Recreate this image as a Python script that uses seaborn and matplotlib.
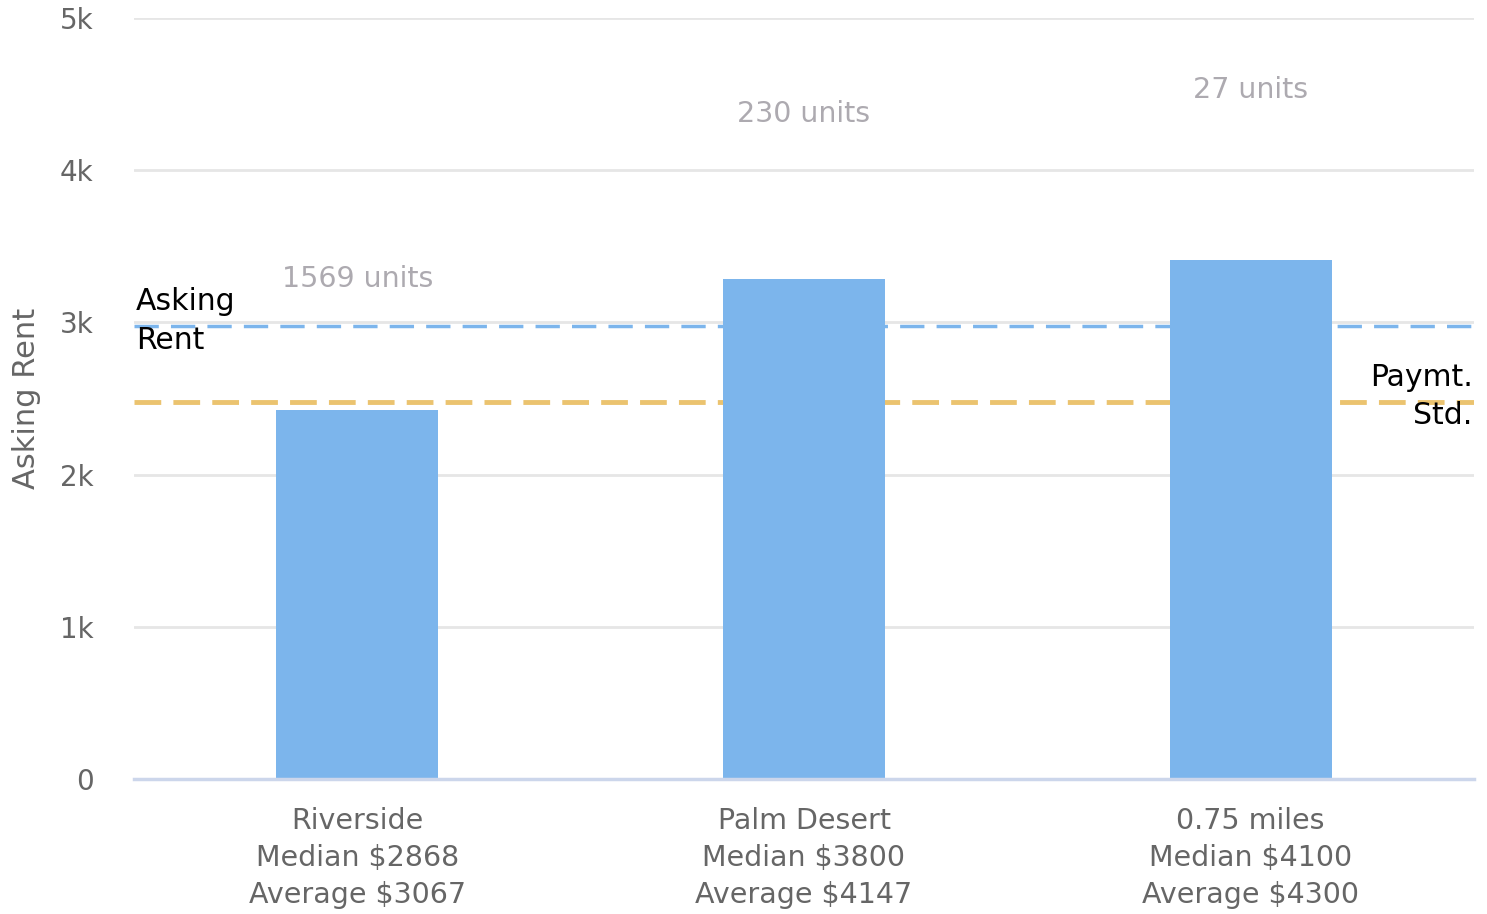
import matplotlib
matplotlib.use("Agg")
import matplotlib.pyplot as plt
import seaborn as sns
import pandas as pd

# ---- data ----
categories = ["Riverside", "Palm Desert", "0.75 miles"]
medians = [2868, 3800, 4100]
averages = [3067, 4147, 4300]
bar_values = [2425, 3285, 3410]
unit_counts = [1569, 230, 27]
unit_label_y = [3285, 4369, 4527]
asking_rent = 2975
paymt_std = 2477
y_ticks = [0, 1000, 2000, 3000, 4000, 5000]
y_tick_labels = ["0", "1k", "2k", "3k", "4k", "5k"]

sns.set_theme(style="white")
plt.rcParams['font.family'] = ['DejaVu Sans']

xlabels = [f"{c}\nMedian ${m}\nAverage ${a}" for c, m, a in zip(categories, medians, averages)]
df = pd.DataFrame({"label": xlabels, "value": bar_values})

fig = plt.figure(figsize=(14.87, 9.14), dpi=100)
ax = fig.add_axes([134/1487, 1-779/914, (1474-134)/1487, (779-18)/914])

sns.barplot(data=df, x="label", y="value", color="#7cb5ec", saturation=1,
            width=0.363, ax=ax, zorder=3, linewidth=0)

ax.set_xlim(-0.5, 2.5)
ax.set_ylim(0, 5000)
ax.set_yticks(y_ticks)
ax.set_yticklabels(y_tick_labels, fontsize=20, color="#666666")
ax.tick_params(axis="y", length=0, pad=29)
ax.tick_params(axis="x", length=0, pad=20, labelsize=20.5, labelcolor="#666666")
for t in ax.get_xticklabels():
    t.set_linespacing(1.42)

ax.grid(axis="y", color="#e6e6e6", linewidth=2, zorder=0)
ax.grid(axis="x", visible=False)
for s in ["top", "right", "left"]:
    ax.spines[s].set_visible(False)
ax.spines["bottom"].set_color("#ccd6eb")
ax.spines["bottom"].set_linewidth(2.5)
ax.spines["bottom"].set_zorder(4)

ax.set_xlabel("")
ax.set_ylabel("Asking Rent", fontsize=22, color="#666666", labelpad=14)

# reference lines
ax.axhline(asking_rent, color="#7cb5ec", linewidth=2.5, dashes=(7, 3.5), zorder=2)
ax.axhline(paymt_std, color="#ebc36f", linewidth=3.5, dashes=(5.5, 2.5), zorder=2)

ax.text(-0.495, asking_rent + 33, "Asking\nRent", ha="left", va="center", fontsize=21.5,
        color="black", linespacing=1.45, zorder=5)
ax.text(2.497, paymt_std + 35, "Paymt.\nStd.", ha="right", va="center", fontsize=21.5,
        color="black", linespacing=1.4, zorder=5)

for i, (n, yv) in enumerate(zip(unit_counts, unit_label_y)):
    ax.text(i, yv, f"{n} units", ha="center", va="center", fontsize=20.5,
            color="#adaab0", zorder=5)

fig.savefig("out.png", dpi=100)
